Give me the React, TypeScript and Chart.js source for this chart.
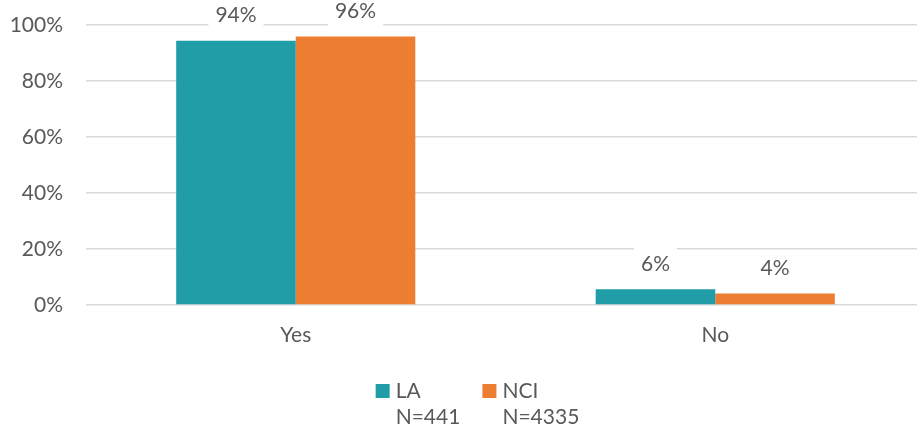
import React, { useEffect, useRef } from "react";
import { Chart, registerables } from "chart.js";

Chart.register(...registerables);

const categories = ["Yes", "No"];
const seriesNames = ["LA", "NCI"];
const seriesN = ["N=441", "N=4335"];
const laValues = [94.4, 5.6];
const nciValues = [95.9, 4.1];
const yTicks = [0, 20, 40, 60, 80, 100];

const TEAL = "#219DA7";
const ORANGE = "#ED7D31";
const TEXT = "#595959";
const FONT = "Lato, 'Open Sans', sans-serif";
const FS = 21;

const labelPlugin = {
  id: "valueLabels",
  afterDatasetsDraw(chart: any) {
    const ctx = chart.ctx;
    ctx.save();
    ctx.font = `${FS}px ${FONT}`;
    ctx.textAlign = "center";
    ctx.textBaseline = "middle";
    chart.data.datasets.forEach((ds: any, di: number) => {
      const meta = chart.getDatasetMeta(di);
      meta.data.forEach((bar: any, i: number) => {
        const txt = Math.round(ds.data[i]) + "%";
        const cy = bar.y - 25;
        const w = ctx.measureText(txt).width + 14;
        ctx.fillStyle = "#ffffff";
        ctx.fillRect(bar.x - w / 2, cy - 17, w, 34);
        ctx.fillStyle = TEXT;
        ctx.fillText(txt, bar.x, cy);
      });
    });
    ctx.restore();
  },
  afterDraw(chart: any) {
    const ctx = chart.ctx;
    ctx.save();
    ctx.font = `${FS}px ${FONT}`;
    ctx.textBaseline = "middle";
    ctx.textAlign = "left";
    const box = 14;
    const gapBox = 6;
    const gapItem = 22;
    const items = chart.data.datasets.map((ds: any, di: number) => {
      const lines = [ds.label, seriesN[di]];
      const tw = Math.max(...lines.map((l: string) => ctx.measureText(l).width));
      return { lines, color: ds.backgroundColor, w: box + gapBox + tw };
    });
    const total = items.reduce((s: number, it: any) => s + it.w, 0) + gapItem * (items.length - 1);
    let x = 477.5 - total / 2;
    const y1 = 391;
    const lh = 26;
    items.forEach((it: any) => {
      ctx.fillStyle = it.color;
      ctx.fillRect(x, y1 - box / 2, box, box);
      ctx.fillStyle = TEXT;
      it.lines.forEach((l: string, li: number) => {
        ctx.fillText(l, x + box + gapBox, y1 + li * lh);
      });
      x += it.w + gapItem;
    });
    ctx.restore();
  },
};

export default function App() {
  const ref = useRef<HTMLCanvasElement>(null);
  useEffect(() => {
    document.body.style.margin = "0";
    const chart = new Chart(ref.current as HTMLCanvasElement, {
      type: "bar",
      data: {
        labels: categories,
        datasets: [
          { label: seriesNames[0], data: laValues, backgroundColor: TEAL, borderWidth: 0 },
          { label: seriesNames[1], data: nciValues, backgroundColor: ORANGE, borderWidth: 0 },
        ],
      },
      options: {
        responsive: false,
        animation: false,
        layout: { padding: { top: 25, left: 0, right: 0, bottom: 0 } },
        plugins: { legend: { display: false }, tooltip: { enabled: false } },
        datasets: { bar: { categoryPercentage: 0.57, barPercentage: 1 } },
        scales: {
          x: {
            grid: { display: false, drawTicks: false },
            border: { display: false },
            ticks: { color: TEXT, font: { family: FONT, size: FS }, padding: 18 },
            afterFit: (s: any) => { s.height = 125; s.paddingLeft = 0; s.paddingRight = 0; },
          },
          y: {
            min: 0,
            max: 100,
            afterBuildTicks: (s: any) => { s.ticks = yTicks.map((v) => ({ value: v })); },
            grid: { color: "#D9D9D9", lineWidth: 1.5, drawTicks: false },
            border: { display: false },
            ticks: {
              color: TEXT,
              font: { family: FONT, size: FS },
              padding: 23,
              callback: (v: any) => v + "%",
            },
            afterFit: (s: any) => { s.width = 86; s.paddingTop = 0; s.paddingBottom = 0; },
          },
        },
      },
      plugins: [labelPlugin],
    });
    return () => chart.destroy();
  }, []);
  return (
    <div style={{ width: 917, height: 430, overflow: "hidden", background: "#fff" }}>
      <canvas ref={ref} width={925} height={430} style={{ display: "block" }} />
    </div>
  );
}
